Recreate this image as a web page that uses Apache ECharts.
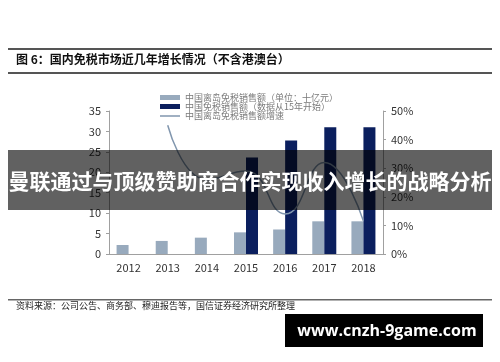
<!DOCTYPE html>
<html><head><meta charset="utf-8">
<script src="https://cdn.jsdelivr.net/npm/echarts@6/dist/echarts.min.js"></script>
<style>html,body{margin:0;padding:0;background:#fff}#c{width:500px;height:362px}</style>
</head><body><div id="c"></div>
<script>
const years = ['2012','2013','2014','2015','2016','2017','2018'];
const islandSales = [2.2, 3.2, 4.0, 5.3, 6.0, 8.0, 8.0];
const nationalSales = [null, null, null, 23.6, 27.8, 31.0, 31.0];
const islandGrowth = [null, 45, 26, 29, 14, 32, 11.5];
const leftTicks = [0, 35, 5];
const rightTicks = [0, 50, 10];
const names = ['中国离岛免税销售额（单位：十亿元）', '中国免税销售额（数据从15年开始）', '中国离岛免税销售额增速'];
const titleText = '图 6：国内免税市场近几年增长情况（不含港澳台）';
const sourceText = '资料来源：公司公告、商务部、穆迪报告等，国信证券经济研究所整理';
const bannerText = '曼联通过与顶级赞助商合作实现收入增长的战略分析';
const markText = 'www.cnzh-9game.com';

const chart = echarts.init(document.getElementById('c'));
const font = '"Noto Sans CJK SC", "Liberation Sans", sans-serif';
const legendText = {fontSize: 9, color: '#7a7a7a', lineHeight: 9, padding: [0,0,0,0]};
chart.setOption({
  animation: false,
  textStyle: {fontFamily: font},
  grid: {left: 109, right: 117, top: 111, bottom: 108},
  legend: [
    {orient: 'vertical', left: 155, top: 88, itemWidth: 20, itemHeight: 5, itemGap: 0,
     textStyle: legendText, icon: 'rect', data: [names[0], names[1]]},
    {orient: 'vertical', left: 155, top: 106.5, itemWidth: 20, itemHeight: 1.5, itemGap: 0,
     textStyle: legendText, icon: 'rect', data: [names[2]]}
  ],
  xAxis: {
    type: 'category', data: years,
    axisLine: {lineStyle: {color: '#a0a0a0'}},
    axisTick: {inside: true, length: 3, lineStyle: {color: '#a0a0a0'}},
    axisLabel: {fontSize: 11, color: '#333', margin: 8}
  },
  yAxis: [
    {type: 'value', min: leftTicks[0], max: leftTicks[1], interval: leftTicks[2],
     axisLine: {show: true, lineStyle: {color: '#a0a0a0'}},
     axisTick: {show: true, length: 3, lineStyle: {color: '#a0a0a0'}},
     splitLine: {show: false},
     axisLabel: {fontSize: 11, color: '#333', margin: 8}},
    {type: 'value', min: rightTicks[0], max: rightTicks[1], interval: rightTicks[2],
     axisLine: {show: true, lineStyle: {color: '#a0a0a0'}},
     axisTick: {show: true, length: 3, lineStyle: {color: '#a0a0a0'}},
     splitLine: {show: false},
     axisLabel: {fontSize: 11, color: '#333', margin: 8, formatter: '{value}%'}}
  ],
  series: [
    {name: names[0], type: 'bar', data: islandSales, barWidth: 12, barGap: '0%',
     itemStyle: {color: '#98aabd'}},
    {name: names[1], type: 'bar', data: nationalSales, barWidth: 12, barGap: '0%',
     itemStyle: {color: '#0b1f5e'}},
    {name: names[2], type: 'line', yAxisIndex: 1, data: islandGrowth, smooth: true,
     symbol: 'none', lineStyle: {color: '#8196ae', width: 1.5}, itemStyle: {color: '#8196ae'}}
  ],
  graphic: [
    {type: 'rect', shape: {x: 8, y: 48, width: 484, height: 2}, style: {fill: '#555'}},
    {type: 'text', left: 16, top: 53, style: {text: titleText, font: 'bold 12px ' + font, fill: '#111'}},
    {type: 'rect', shape: {x: 8, y: 72, width: 484, height: 2}, style: {fill: '#555'}},
    {type: 'rect', shape: {x: 8, y: 299, width: 484, height: 1.5}, style: {fill: '#666'}},
    {type: 'text', left: 16, top: 301, style: {text: sourceText, font: '9px ' + font, fill: '#222'}},
    {type: 'rect', z: 100, shape: {x: 8, y: 150, width: 484, height: 60}, style: {fill: 'rgba(0,0,0,0.62)'}},
    {type: 'text', z: 101, x: 250, y: 181, style: {text: bannerText, font: 'bold 21px ' + font, fill: '#fff', align: 'center', verticalAlign: 'middle'}},
    {type: 'rect', z: 100, shape: {x: 285, y: 314, width: 198, height: 33}, style: {fill: '#000'}},
    {type: 'text', z: 101, x: 387, y: 331, style: {text: markText, font: 'bold 16px "Open Sans", sans-serif', fill: '#fff', align: 'center', verticalAlign: 'middle'}}
  ]
});
</script></body></html>
